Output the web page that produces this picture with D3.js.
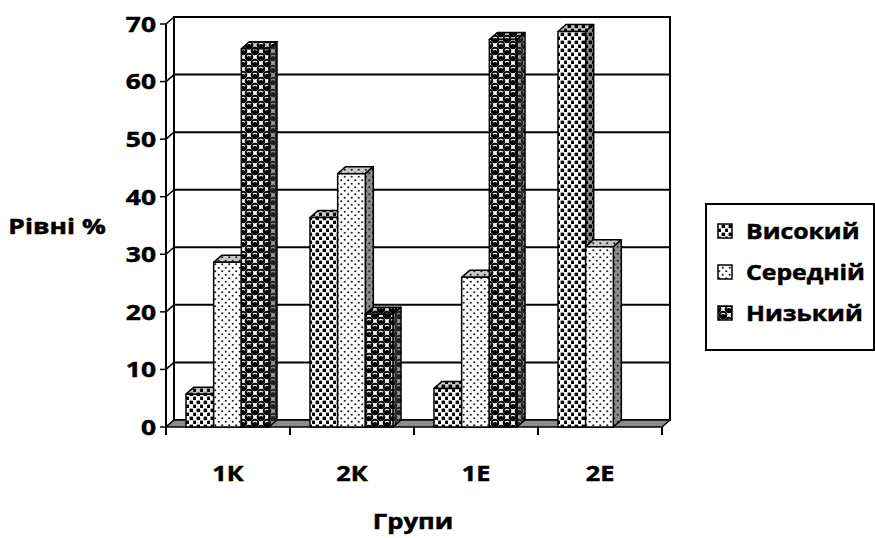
<!DOCTYPE html>
<html><head><meta charset="utf-8">
<script src="https://cdn.jsdelivr.net/npm/d3@7/dist/d3.min.js"></script>
<style>body{margin:0;background:#fff}svg{display:block}text{font-family:"Open Sans",sans-serif;font-weight:bold;fill:#000;stroke:#000;stroke-width:0.5px}</style>
</head><body><svg id="c" width="875" height="538"></svg>
<script>
const categories = ["1К", "2К", "1Е", "2Е"];
const seriesNames = ["Високий", "Середній", "Низький"];
const valuesHigh = [5.7, 36.4, 6.7, 68.7];
const valuesMid = [28.6, 44.0, 26.0, 31.3];
const valuesLow = [65.7, 19.6, 67.3, 0];
const yTicks = [0, 10, 20, 30, 40, 50, 60, 70];
const xTitle = "Групи";
const yTitle = "Рівні %";

const series = [valuesHigh, valuesMid, valuesLow];
const svg = d3.select("#c");
const DX = 8, DY = -7;
const x = d3.scaleBand().domain(categories).range([166, 662]);
const x1 = d3.scaleBand().domain(seriesNames).range([20, 103]);
const y = d3.scaleLinear().domain([0, 70]).range([427, 24]);

function label(parent, tx, ty, str, size, anchor, sx) {
  return parent.append("text").attr("transform", `translate(${tx},${ty}) scale(${sx || 1.2},1)`)
    .attr("dy", "0.36em").attr("text-anchor", anchor).attr("font-size", size).text(str);
}

// patterns
const defs = svg.append("defs");
function pat(id, w, h, bg, draw) {
  const p = defs.append("pattern").attr("id", id).attr("patternUnits", "userSpaceOnUse")
    .attr("width", w).attr("height", h);
  p.append("rect").attr("width", w).attr("height", h).attr("fill", bg);
  draw(p);
}
const faces = [["f", "#fff"], ["t", "#c8c8c8"], ["s", "#8c8c8c"]];
faces.forEach(([k, bg]) => {
  pat("hi" + k, 7, 8, bg, p => {
    p.append("rect").attr("x", 0.6).attr("y", 0.6).attr("width", 3.5).attr("height", 3.5).attr("fill", "#000");
    p.append("rect").attr("x", 4.1).attr("y", 4.6).attr("width", 3.5).attr("height", 3.5).attr("fill", "#000");
  });
  pat("mid" + k, 7, 7, bg, p => {
    p.append("circle").attr("cx", 1.75).attr("cy", 1.75).attr("r", 1.1).attr("fill", "#222");
    p.append("circle").attr("cx", 5.25).attr("cy", 5.25).attr("r", 1.1).attr("fill", "#222");
  });
  pat("low" + k, 12, 12, k === "s" ? "#999" : (k === "t" ? "#ccc" : "#fff"), p => {
    const ball = k === "s" ? "#222" : "#000", hl = k === "s" ? "#888" : "#e8e8e8";
    [[3, 3], [9, 9], [9, -3], [-3, 9], [15, 3], [3, 15]].forEach(([cx, cy]) => {
      p.append("circle").attr("cx", cx).attr("cy", cy).attr("r", 4.3).attr("fill", ball);
      p.append("path").attr("d", `M${cx - 2.2},${cy - 0.8} Q${cx},${cy - 2.6} ${cx + 2.2},${cy - 0.8}`)
        .attr("fill", "none").attr("stroke", hl).attr("stroke-width", 1.2);
    });
  });
});
const pid = ["hi", "mid", "low"];

// back wall
const y0 = y(0), yTop = y(70), xl = x.range()[0], xr = x.range()[1];
svg.append("rect").attr("x", xl + DX).attr("y", yTop + DY).attr("width", xr - xl).attr("height", y0 - yTop)
  .attr("fill", "#fff").attr("stroke", "#000").attr("stroke-width", 2);
// gridlines
const g = svg.append("g");
yTicks.forEach(t => {
  if (t > 0) g.append("line").attr("x1", xl + DX).attr("x2", xr + DX).attr("y1", y(t) + DY).attr("y2", y(t) + DY)
    .attr("stroke", "#000").attr("stroke-width", 2);
  g.append("line").attr("x1", xl).attr("x2", xl + DX).attr("y1", y(t)).attr("y2", y(t) + DY)
    .attr("stroke", "#000").attr("stroke-width", 1.5);
  g.append("line").attr("x1", xl - 6).attr("x2", xl).attr("y1", y(t)).attr("y2", y(t))
    .attr("stroke", "#000").attr("stroke-width", 1.5);
  label(g, xl - 10, y(t), t, 22, "end", 1.2);
});
// front axis
svg.append("line").attr("x1", xl).attr("x2", xl).attr("y1", yTop).attr("y2", y0 + 8).attr("stroke", "#000").attr("stroke-width", 2);
// floor
svg.append("path").attr("d", `M${xl},${y0} L${xr},${y0} L${xr + DX},${y0 + DY} L${xl + DX},${y0 + DY} Z`)
  .attr("fill", "#8c8c8c").attr("stroke", "#000").attr("stroke-width", 1.5).attr("stroke-linejoin", "round");
// category ticks
x.domain().concat([null]).forEach(c => {
  const xx = c === null ? xr : x(c);
  svg.append("line").attr("x1", xx).attr("x2", xx).attr("y1", y0).attr("y2", y0 + 8).attr("stroke", "#000").attr("stroke-width", 2);
});
categories.forEach(c => {
  label(svg, x(c) + x.bandwidth() / 2, 473, c, 21, "middle", 1.2);
});
// bars
const bars = svg.append("g").attr("stroke", "#000").attr("stroke-width", 1.5).attr("stroke-linejoin", "round");
categories.forEach((c, ci) => {
  seriesNames.forEach((s, si) => {
    const v = series[si][ci];
    if (!v) return;
    const bx = x(c) + x1(s), bw = x1.bandwidth(), by = y(v), bb = y(0);
    bars.append("path").attr("d", `M${bx},${by} L${bx + DX},${by + DY} L${bx + bw + DX},${by + DY} L${bx + bw},${by} Z`)
      .attr("fill", `url(#${pid[si]}t)`);
    bars.append("path").attr("d", `M${bx + bw},${by} L${bx + bw + DX},${by + DY} L${bx + bw + DX},${bb + DY} L${bx + bw},${bb} Z`)
      .attr("fill", `url(#${pid[si]}s)`);
    bars.append("rect").attr("x", bx).attr("y", by).attr("width", bw).attr("height", bb - by)
      .attr("fill", `url(#${pid[si]}f)`);
  });
});
// titles
label(svg, 57, 226, yTitle, 22, "middle", 1.2);
label(svg, 413, 521, xTitle, 21, "middle", 1.22);
// legend
const lg = svg.append("g");
lg.append("rect").attr("x", 706).attr("y", 204).attr("width", 168).attr("height", 146).attr("fill", "#fff").attr("stroke", "#000").attr("stroke-width", 2);
seriesNames.forEach((s, i) => {
  const cy = 231 + i * 41;
  lg.append("rect").attr("x", 718).attr("y", cy - 7).attr("width", 14).attr("height", 14)
    .attr("fill", `url(#${pid[i]}f)`).attr("stroke", "#000").attr("stroke-width", 1.5);
  label(lg, 746, cy, s, 21, "start", 1.18);
});
</script></body></html>
